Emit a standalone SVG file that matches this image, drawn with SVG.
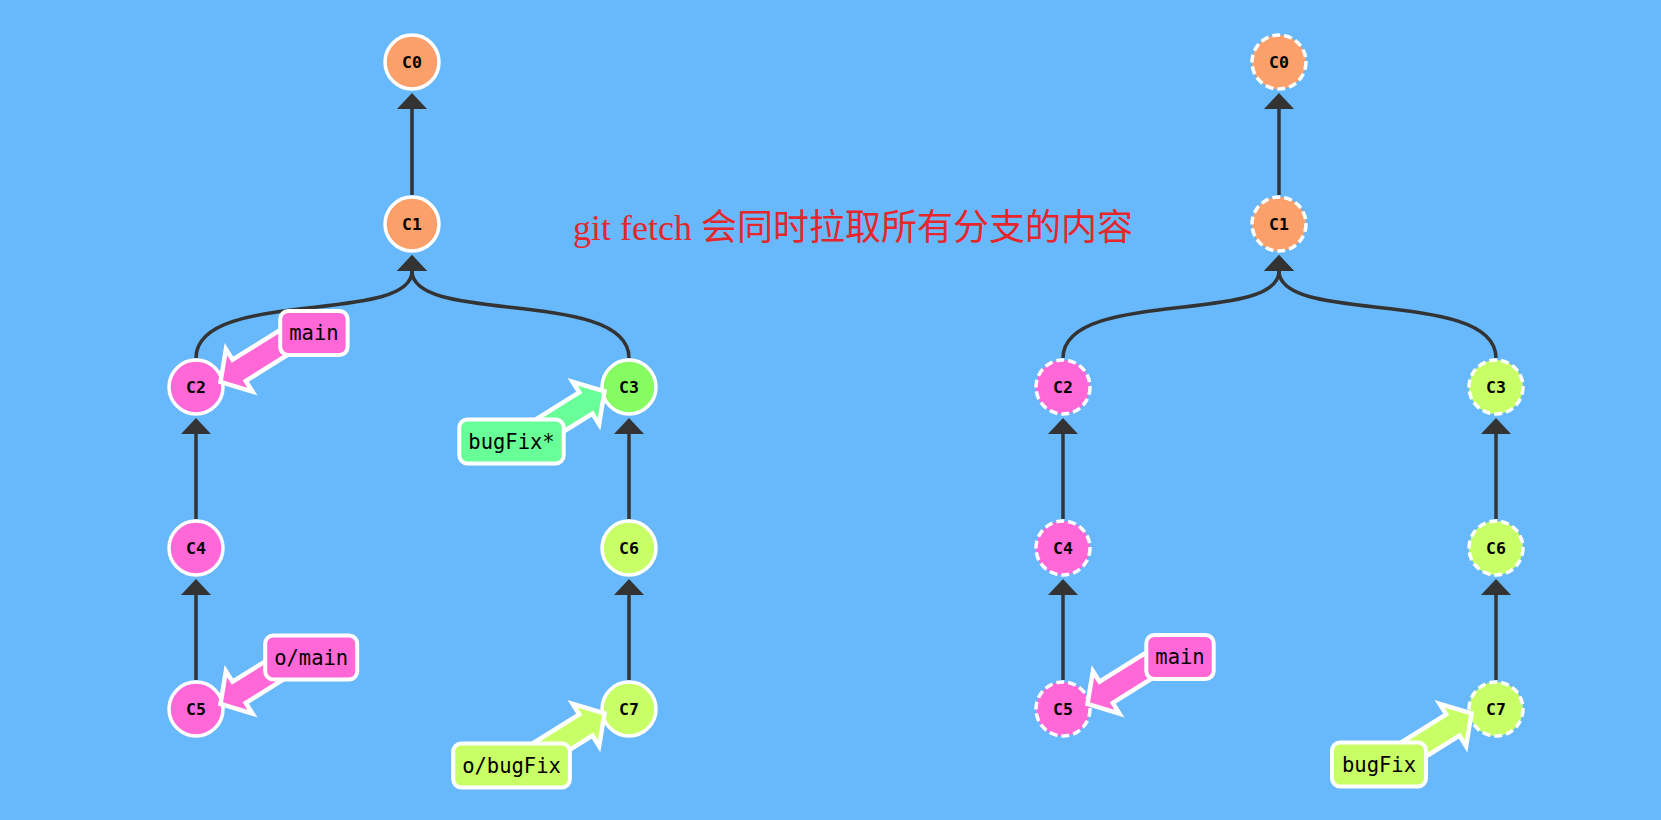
<svg xmlns="http://www.w3.org/2000/svg" xmlns:xlink="http://www.w3.org/1999/xlink" width="1661" height="820" viewBox="0 0 1661 820">
<style>
.edge{fill:none;stroke:#333;stroke-width:3.5;marker-end:url(#ah)}
.node{stroke:#fff;stroke-width:3.5}
.dash{stroke-dasharray:8 4}
.ntxt{font-family:"DejaVu Sans Mono","Liberation Mono",monospace;font-size:16.5px;font-weight:bold;fill:#000;text-anchor:middle}
.lrect{stroke:#fff;stroke-width:4}
.ltxt{font-family:"DejaVu Sans Mono","Liberation Mono",monospace;font-size:20.5px;fill:#000;text-anchor:middle}
.barr{stroke:#fff;stroke-width:4.5;stroke-linejoin:miter}
.orange{fill:#FCA06B}.pink{fill:#FF68D6}.green{fill:#86FC62}.lime{fill:#C9FF66}.mint{fill:#68FF98}
.title{font-family:"Liberation Serif","Noto Sans CJK SC",serif;font-size:36px;fill:#E5262B}
</style>
<defs>
<marker id="ah" markerUnits="userSpaceOnUse" viewBox="0 0 16 30" refX="0" refY="15" markerWidth="16" markerHeight="30" orient="auto"><path d="M0,0 L16,15 L0,30 z" fill="#333"/></marker>
<polygon id="ba" points="0,0 22,-25 22,-12.5 95,-12.5 95,12.5 22,12.5 22,25"/>
</defs>
<rect x="0" y="0" width="1661" height="820" fill="#68B8FC"/>
<g id="connectors">
<path class="edge" d="M412,195 L412,109"/>
<path class="edge" d="M196,358 C196,288 412,325 412,271"/>
<path class="edge" d="M629,358 C629,288 412,325 412,271"/>
<path class="edge" d="M196,519 L196,434"/>
<path class="edge" d="M196,680 L196,595"/>
<path class="edge" d="M629,519 L629,434"/>
<path class="edge" d="M629,680 L629,595"/>
<path class="edge" d="M1279,195 L1279,109"/>
<path class="edge" d="M1063,358 C1063,288 1279,325 1279,271"/>
<path class="edge" d="M1496,358 C1496,288 1279,325 1279,271"/>
<path class="edge" d="M1063,519 L1063,434"/>
<path class="edge" d="M1063,680 L1063,595"/>
<path class="edge" d="M1496,519 L1496,434"/>
<path class="edge" d="M1496,680 L1496,595"/>
</g>
<g id="L-C0"><circle class="node orange" cx="412" cy="62" r="27"/><text class="ntxt" x="412" y="68">C0</text></g>
<g id="L-C1"><circle class="node orange" cx="412" cy="224" r="27"/><text class="ntxt" x="412" y="230">C1</text></g>
<g id="L-C2"><circle class="node pink" cx="196" cy="387" r="27"/><text class="ntxt" x="196" y="393">C2</text></g>
<g id="L-C3"><circle class="node green" cx="629" cy="387" r="27"/><text class="ntxt" x="629" y="393">C3</text></g>
<g id="L-C4"><circle class="node pink" cx="196" cy="548" r="27"/><text class="ntxt" x="196" y="554">C4</text></g>
<g id="L-C5"><circle class="node pink" cx="196" cy="709" r="27"/><text class="ntxt" x="196" y="715">C5</text></g>
<g id="L-C6"><circle class="node lime" cx="629" cy="548" r="27"/><text class="ntxt" x="629" y="554">C6</text></g>
<g id="L-C7"><circle class="node lime" cx="629" cy="709" r="27"/><text class="ntxt" x="629" y="715">C7</text></g>
<g id="R-C0"><circle class="node orange dash" cx="1279" cy="62" r="27"/><text class="ntxt" x="1279" y="68">C0</text></g>
<g id="R-C1"><circle class="node orange dash" cx="1279" cy="224" r="27"/><text class="ntxt" x="1279" y="230">C1</text></g>
<g id="R-C2"><circle class="node pink dash" cx="1063" cy="387" r="27"/><text class="ntxt" x="1063" y="393">C2</text></g>
<g id="R-C3"><circle class="node lime dash" cx="1496" cy="387" r="27"/><text class="ntxt" x="1496" y="393">C3</text></g>
<g id="R-C4"><circle class="node pink dash" cx="1063" cy="548" r="27"/><text class="ntxt" x="1063" y="554">C4</text></g>
<g id="R-C5"><circle class="node pink dash" cx="1063" cy="709" r="27"/><text class="ntxt" x="1063" y="715">C5</text></g>
<g id="R-C6"><circle class="node lime dash" cx="1496" cy="548" r="27"/><text class="ntxt" x="1496" y="554">C6</text></g>
<g id="R-C7"><circle class="node lime dash" cx="1496" cy="709" r="27"/><text class="ntxt" x="1496" y="715">C7</text></g>
<g id="L-main">
<use xlink:href="#ba" class="barr pink" transform="translate(220.5,382) rotate(-32)"/>
<rect class="lrect pink" x="280.2" y="311" width="67.4" height="44" rx="8"/>
<text class="ltxt" x="313.9" y="340">main</text>
</g>
<g id="L-o-main">
<use xlink:href="#ba" class="barr pink" transform="translate(220.5,704) rotate(-32)"/>
<rect class="lrect pink" x="265.2" y="635.5" width="92" height="44" rx="8"/>
<text class="ltxt" x="311.2" y="664.5">o/main</text>
</g>
<g id="L-bugFix">
<use xlink:href="#ba" class="barr mint" transform="translate(604.5,391.3) rotate(148)"/>
<rect class="lrect mint" x="459.3" y="419.5" width="104.4" height="44" rx="8"/>
<text class="ltxt" x="511.5" y="448.5">bugFix*</text>
</g>
<g id="L-o-bugFix">
<use xlink:href="#ba" class="barr lime" transform="translate(604.5,713.3) rotate(148)"/>
<rect class="lrect lime" x="453.2" y="743.5" width="116.7" height="44" rx="8"/>
<text class="ltxt" x="511.5" y="772.5">o/bugFix</text>
</g>
<g id="R-main">
<use xlink:href="#ba" class="barr pink" transform="translate(1087.5,704) rotate(-32)"/>
<rect class="lrect pink" x="1146.3" y="635" width="67.4" height="44" rx="8"/>
<text class="ltxt" x="1180" y="664">main</text>
</g>
<g id="R-bugFix">
<use xlink:href="#ba" class="barr lime" transform="translate(1471.5,713.3) rotate(148)"/>
<rect class="lrect lime" x="1332" y="742.5" width="94" height="44" rx="8"/>
<text class="ltxt" x="1379" y="771.5">bugFix</text>
</g>
<text class="title" x="573" y="240">git fetch 会同时拉取所有分支的内容</text>
</svg>
